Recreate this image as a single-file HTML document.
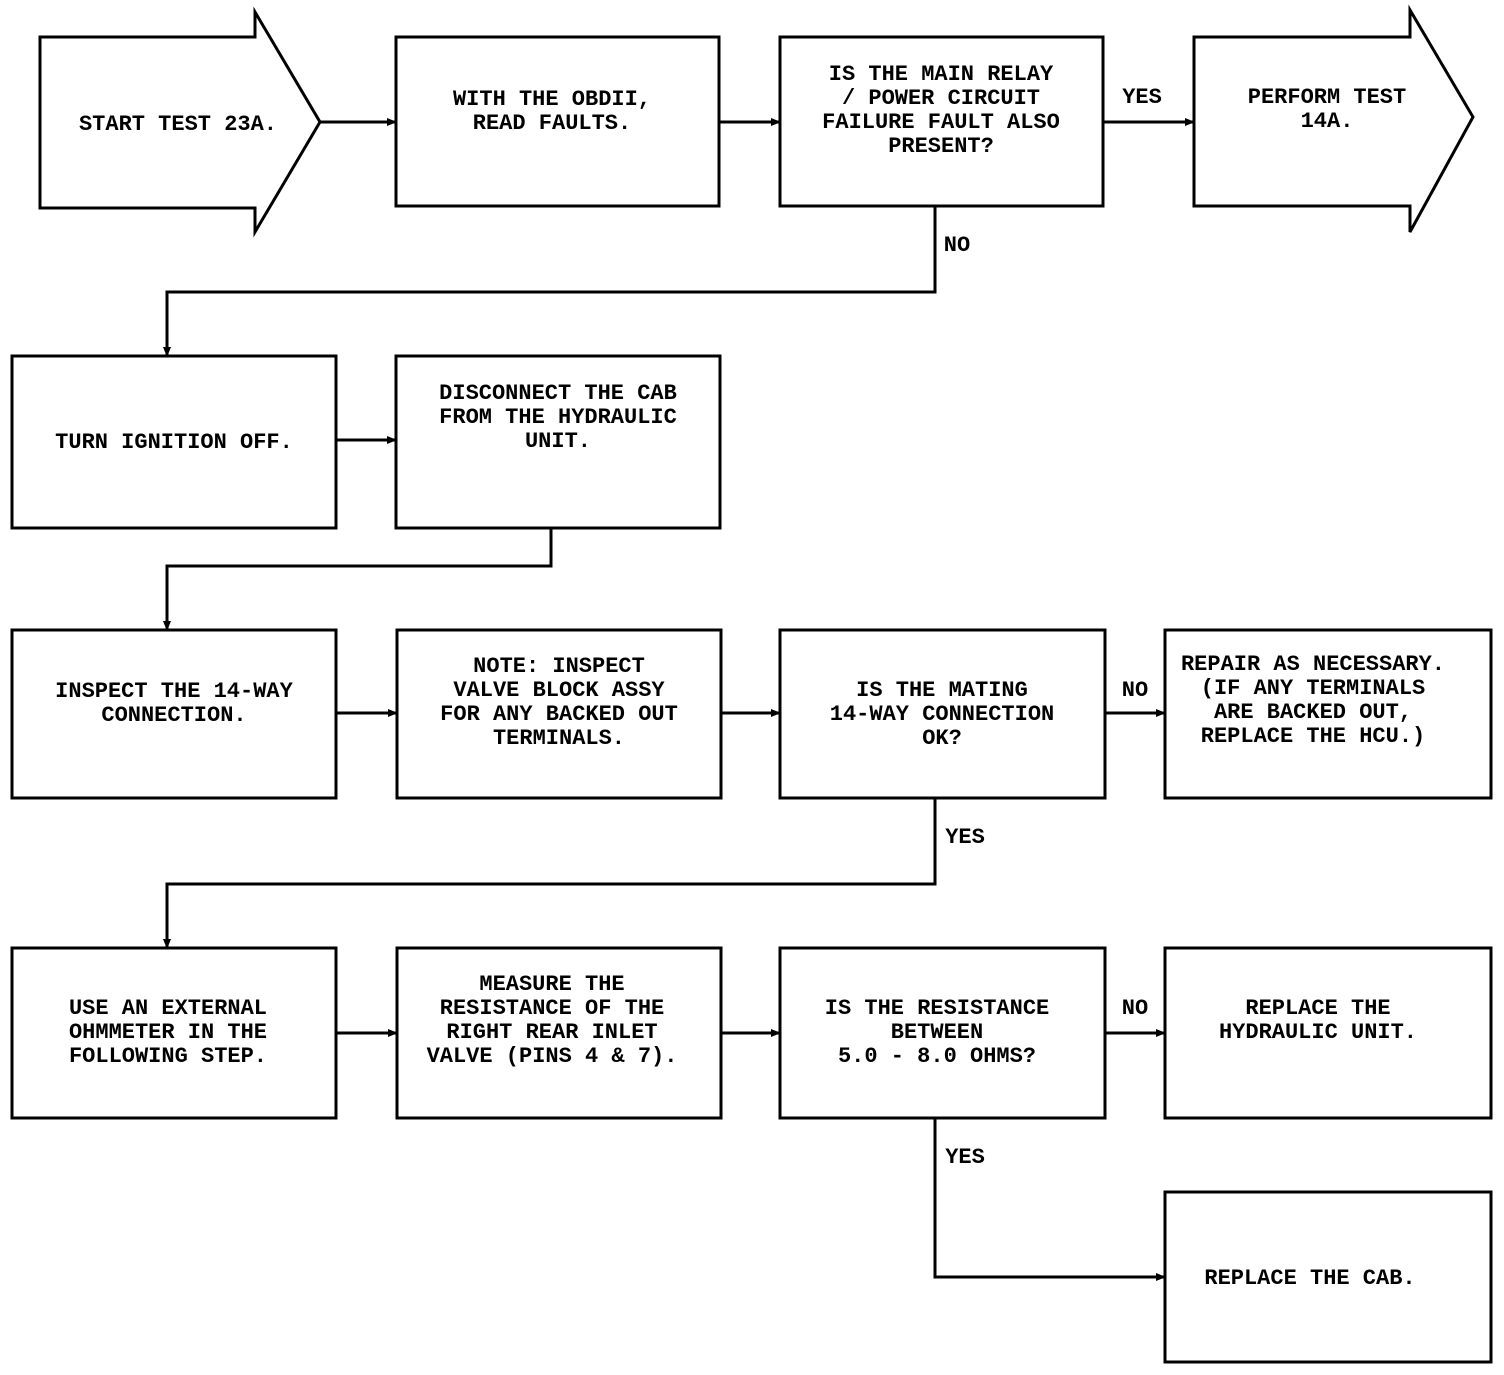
<!DOCTYPE html>
<html><head><meta charset="utf-8"><style>
html,body{margin:0;padding:0;background:#fff;}
svg text{font-family:"Liberation Mono","DejaVu Sans Mono",monospace;font-size:22px;font-weight:bold;fill:#000;text-anchor:middle;}
</style></head><body>
<svg width="1504" height="1370" viewBox="0 0 1504 1370" xmlns="http://www.w3.org/2000/svg">
<defs><marker id="a" markerWidth="10" markerHeight="8" refX="9" refY="4" orient="auto" markerUnits="userSpaceOnUse"><path d="M0,0 L10,4 L0,8 z" fill="#000"/></marker></defs>
<g fill="none" stroke="#000" stroke-width="3">
<path d="M40,37 H255 V12 L320,122 L255,232 V208 H40 Z"/>
<rect x="396" y="37" width="323" height="169"/>
<rect x="780" y="37" width="323" height="169"/>
<path d="M1194,37 H1410 V10 L1473,117 L1410,232 V206 H1194 Z"/>
<rect x="12" y="356" width="324" height="172"/>
<rect x="396" y="356" width="324" height="172"/>
<rect x="12" y="630" width="324" height="168"/>
<rect x="397" y="630" width="324" height="168"/>
<rect x="780" y="630" width="325" height="168"/>
<rect x="1165" y="630" width="326" height="168"/>
<rect x="12" y="948" width="324" height="170"/>
<rect x="397" y="948" width="324" height="170"/>
<rect x="780" y="948" width="325" height="170"/>
<rect x="1165" y="948" width="326" height="170"/>
<rect x="1165" y="1192" width="326" height="170"/>
<g marker-end="url(#a)">
<path d="M320,122 H396"/>
<path d="M719,122 H780"/>
<path d="M1103,122 H1194"/>
<path d="M935,206 V292 H167 V356"/>
<path d="M336,440 H396"/>
<path d="M551,528 V566 H167 V630"/>
<path d="M336,713 H397"/>
<path d="M721,713 H780"/>
<path d="M1105,713 H1165"/>
<path d="M935,798 V884 H167 V948"/>
<path d="M336,1033 H397"/>
<path d="M721,1033 H780"/>
<path d="M1105,1033 H1165"/>
<path d="M935,1118 V1277 H1165"/>
</g></g>
<text x="178" y="130">START TEST 23A.</text>
<text x="552" y="105">WITH THE OBDII,</text><text x="552" y="129">READ FAULTS.</text>
<text x="941" y="80">IS THE MAIN RELAY</text><text x="941" y="104">/ POWER CIRCUIT</text><text x="941" y="128">FAILURE FAULT ALSO</text><text x="941" y="152">PRESENT?</text>
<text x="1142" y="103">YES</text>
<text x="1327" y="103">PERFORM TEST</text><text x="1327" y="127">14A.</text>
<text x="957" y="251">NO</text>
<text x="174" y="448">TURN IGNITION OFF.</text>
<text x="558" y="399">DISCONNECT THE CAB</text><text x="558" y="423">FROM THE HYDRAULIC</text><text x="558" y="447">UNIT.</text>
<text x="174" y="697">INSPECT THE 14-WAY</text><text x="174" y="721">CONNECTION.</text>
<text x="559" y="672">NOTE:  INSPECT</text><text x="559" y="696">VALVE BLOCK ASSY</text><text x="559" y="720">FOR ANY BACKED OUT</text><text x="559" y="744">TERMINALS.</text>
<text x="942" y="696">IS THE MATING</text><text x="942" y="720">14-WAY CONNECTION</text><text x="942" y="744">OK?</text>
<text x="1135" y="696">NO</text>
<text x="1313" y="670">REPAIR AS NECESSARY.</text><text x="1313" y="694">(IF ANY TERMINALS</text><text x="1313" y="718">ARE BACKED OUT,</text><text x="1313" y="742">REPLACE THE HCU.)</text>
<text x="965" y="843">YES</text>
<text x="168" y="1014">USE AN EXTERNAL</text><text x="168" y="1038">OHMMETER IN THE</text><text x="168" y="1062">FOLLOWING STEP.</text>
<text x="552" y="990">MEASURE THE</text><text x="552" y="1014">RESISTANCE OF THE</text><text x="552" y="1038">RIGHT REAR INLET</text><text x="552" y="1062">VALVE (PINS 4 &amp; 7).</text>
<text x="937" y="1014">IS THE RESISTANCE</text><text x="937" y="1038">BETWEEN</text><text x="937" y="1062">5.0 - 8.0 OHMS?</text>
<text x="1135" y="1014">NO</text>
<text x="1318" y="1014">REPLACE THE</text><text x="1318" y="1038">HYDRAULIC UNIT.</text>
<text x="965" y="1163">YES</text>
<text x="1310" y="1284">REPLACE THE CAB.</text>
</svg>
</body></html>
